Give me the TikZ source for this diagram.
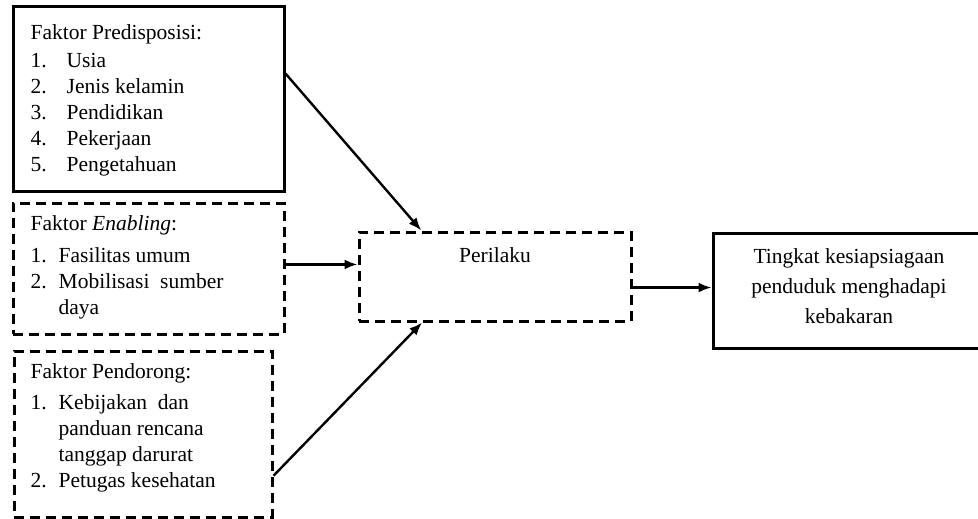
\documentclass[tikz,border=0pt]{standalone}
\usepackage{fontspec}
\setmainfont{Liberation Serif}
\usepackage{tikz}
\usetikzlibrary{positioning}
\usetikzlibrary{arrows.meta}
\usetikzlibrary{calc}

\tikzset{
  solidbox/.style={draw, line width=3pt, rectangle, inner sep=0pt},
  dashbox/.style={draw, line width=3pt, dash pattern=on 10pt off 6pt, rectangle, inner sep=0pt},
  boxtext/.style={anchor=north west, inner sep=0pt, align=left},
  conn/.style={-{Latex[length=13pt,width=10pt]}, line width=2.4pt}
}

\begin{document}
\begin{tikzpicture}[x=1pt, y=-1pt, font=\fontsize{21.5}{26}\selectfont]
  \useasboundingbox (0,0) rectangle (978,519);
  \clip (0,0) rectangle (978,519);

  % boxes
  \node[solidbox, minimum width=271pt, minimum height=184pt] (pred) at (148.5,99) {};
  \node[dashbox, minimum width=271pt, minimum height=131pt] (enab) at (148.5,268.5) {};
  \node[dashbox, minimum width=258pt, minimum height=166pt] (pend) at (143,434) {};
  \node[dashbox, minimum width=272pt, minimum height=89pt] (peri) at (495,276.5) {};
  \node[solidbox, minimum width=272pt, minimum height=115pt] (ting) at (849,290.5) {};

  % texts
  \node[boxtext] (predtext) at ($(pred.north west)+(19,16)$) {%
    \begin{tabular}{@{}p{36pt}@{}l@{}}
      \multicolumn{2}{@{}l@{}}{Faktor Predisposisi:}\\[2pt]
      1. & Usia\\
      2. & Jenis kelamin\\
      3. & Pendidikan\\
      4. & Pekerjaan\\
      5. & Pengetahuan
    \end{tabular}};
  \node[boxtext] (enabtext) at ($(enab.north west)+(19,11)$) {%
    \begin{tabular}{@{}p{28pt}@{}l@{}}
      \multicolumn{2}{@{}l@{}}{Faktor \textit{Enabling}:}\\[6pt]
      1. & Fasilitas umum\\
      2. & Mobilisasi\ \ sumber\\
         & daya
    \end{tabular}};
  \node[boxtext] (pendtext) at ($(pend.north west)+(18,11)$) {%
    \begin{tabular}{@{}p{28pt}@{}l@{}}
      \multicolumn{2}{@{}l@{}}{Faktor Pendorong:}\\[5pt]
      1. & Kebijakan\ \ dan\\
         & panduan rencana\\
         & tanggap darurat\\
      2. & Petugas kesehatan
    \end{tabular}};
  \node[anchor=base, inner sep=0pt] (peritext) at ($(peri.north)+(0,32)$) {Perilaku};
  \node[anchor=north, inner sep=0pt, align=center, font=\fontsize{21.5}{30}\selectfont]
    (tingtext) at ($(ting.north)+(0,17)$) {Tingkat kesiapsiagaan\\ penduduk menghadapi\\ kebakaran};

  % connectors
  \coordinate (a1) at ($(pred.north east)!0.364!(pred.south east)$);
  \coordinate (a2) at ($(peri.north west)!0.232!(peri.north east)$);
  \draw[conn] (a1) -- (a2);

  \coordinate (b1) at ($(enab.north east)!0.47!(enab.south east)$);
  \draw[conn] (b1) -- (b1 -| peri.west);

  \coordinate (c1) at ($(pend.north east)!0.747!(pend.south east)$);
  \coordinate (c2) at ($(peri.south west)!0.235!(peri.south east)$);
  \draw[conn] (c1) -- (c2);

  \coordinate (d1) at ($(peri.north east)!0.62!(peri.south east)$);
  \draw[conn] (d1) -- (d1 -| ting.west);
\end{tikzpicture}
\end{document}
